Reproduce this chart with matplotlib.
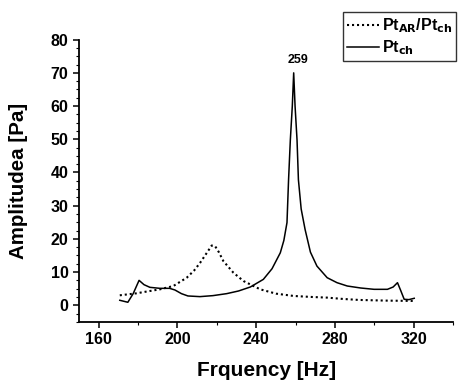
import matplotlib.pyplot as plt
from matplotlib.ticker import MultipleLocator

plt.rcParams['font.family'] = ['Liberation Sans', 'DejaVu Sans']
plt.rcParams['font.weight'] = 'bold'
plt.rcParams['mathtext.default'] = 'bf'

# Pt_ch (solid)
freq_ch = [170.7, 174.8, 177.5, 180.5, 183.0, 186.0, 191.0, 196.0, 198.7, 202.0, 205.3,
           211.4, 218.0, 225.0, 231.0, 237.0, 243.6, 248.0, 252.2, 254.0, 255.6, 256.4,
           257.3, 258.3, 259.0, 259.7, 260.7, 261.4, 262.8, 264.8, 267.5, 270.8, 276.0,
           281.0, 286.2, 293.0, 299.8, 306.6, 309.5, 311.7, 313.3, 315.1, 317.5, 320.2]
amp_ch = [1.5, 0.9, 3.5, 7.5, 6.2, 5.4, 5.1, 5.1, 4.6, 3.5, 2.8,
          2.6, 2.9, 3.5, 4.3, 5.5, 7.8, 11.0, 15.8, 19.5, 24.9, 37.8,
          49.8, 60.0, 70.0, 60.0, 49.8, 37.8, 29.0, 22.8, 16.0, 11.8, 8.3,
          6.8, 5.8, 5.2, 4.8, 4.8, 5.5, 6.8, 4.5, 1.8, 1.7, 2.1]

# Pt_AR / Pt_ch (dotted)
freq_ar = [170.7, 175.0, 179.2, 185.0, 191.1, 197.9, 204.7, 208.5, 211.5, 214.9, 217.4,
           219.1, 221.0, 223.3, 228.4, 233.5, 242.0, 250.0, 259.0, 268.0, 276.0, 284.0,
           292.1, 306.0, 320.0]
amp_ar = [3.0, 3.3, 3.6, 4.2, 4.8, 5.8, 8.3, 10.5, 12.8, 15.8, 18.0,
          17.8, 16.0, 13.3, 9.8, 7.3, 4.8, 3.5, 2.8, 2.5, 2.3, 1.9,
          1.6, 1.4, 1.3]

fig = plt.figure(figsize=(4.62, 3.85), dpi=100)
ax = fig.add_axes([0.171, 0.164, 0.81, 0.733])

ax.plot(freq_ar, amp_ar, color='black', lw=1.5, linestyle=(0, (1, 1.4)),
        label='Pt$_{AR}$/Pt$_{ch}$')
ax.plot(freq_ch, amp_ch, color='black', lw=1.1, label='Pt$_{ch}$')
ax.text(261.3, 72, '259', ha='center', va='bottom', fontsize=9, fontweight='bold')

ax.set_xticks([160, 200, 240, 280, 320])
ax.xaxis.set_minor_locator(MultipleLocator(20))
ax.yaxis.set_major_locator(MultipleLocator(10))
ax.yaxis.set_minor_locator(MultipleLocator(2.5))
ax.set_xlim(150, 340)
ax.set_ylim(-5, 80)

for s in ['top', 'right']:
    ax.spines[s].set_visible(False)
for s in ['left', 'bottom']:
    ax.spines[s].set_linewidth(1.3)
ax.tick_params(which='major', direction='out', length=4, width=1.1, labelsize=11.5)
ax.tick_params(which='minor', direction='out', length=2, width=0.8)

ax.set_xlabel('Frquency [Hz]', fontsize=15, fontweight='bold', labelpad=10)
ax.set_ylabel('Amplitudea [Pa]', fontsize=14.8, fontweight='bold', labelpad=16)

leg = ax.legend(loc='upper left', bbox_to_anchor=(0.742, 0.968),
                bbox_transform=fig.transFigure, frameon=True, fancybox=False,
                edgecolor='black', fontsize=11.5, handlelength=2.0,
                handletextpad=0.2, borderpad=0.25, labelspacing=0.2,
                borderaxespad=0)
leg.get_frame().set_linewidth(1.0)

plt.savefig('out.png', dpi=100)
